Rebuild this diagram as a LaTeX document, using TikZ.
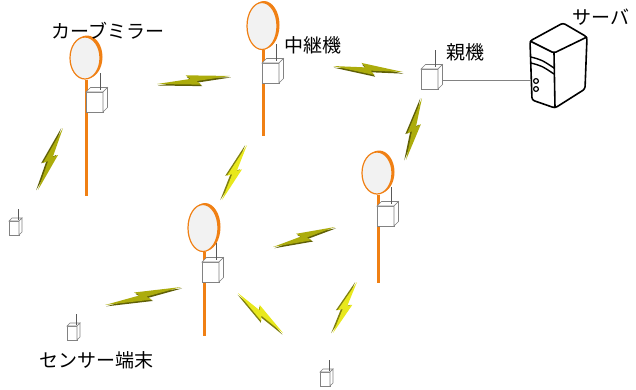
\documentclass[tikz,border=0pt]{standalone}
\usepackage{fontspec}
\newfontfamily\jpfont{Noto Sans CJK JP}
\usepackage{tikz}
\usepackage{xcolor}
\definecolor{mirrororange}{RGB}{240,128,20}
\definecolor{mirrorface}{RGB}{242,242,242}
\definecolor{boltolive}{RGB}{172,172,12}
\definecolor{boltyellow}{RGB}{232,232,28}
\definecolor{boxgray}{RGB}{130,130,130}

% building blocks, origin of each pic noted in its comment
\tikzset{
  % lightning bolt from (0,0) to (#1,0), #2 = face colour
  pics/bolt/.style 2 args={code={
    \fill[#2!55!black] (0.8,1.6) -- (0.46*#1+0.8,0.2) -- (0.40*#1+0.8,-3.9) -- (#1+0.8,1.6)
      -- (0.54*#1+0.8,3.0) -- (0.60*#1+0.8,7.1) -- cycle;
    \fill[#2] (0,0) -- (0.46*#1,-1.4) -- (0.40*#1,-5.5) -- (#1,0)
      -- (0.54*#1,1.4) -- (0.60*#1,5.5) -- cycle;
  }},
  % curve mirror, origin = mirror centre, #1 = half height, #2 = pole length
  pics/mirror/.style 2 args={code={
    \draw[mirrororange, line width=3pt] (1,#1) -- (1,#2);
    \fill[mirrororange] (2,-1) ellipse [x radius=15.5, y radius=#1];
    \filldraw[fill=mirrorface, draw=mirrororange, line width=1.2pt] (0,0) ellipse [x radius=15, y radius=#1-0.5];
  }},
  % radio unit, origin = top left corner of the front face
  pics/relay/.style={code={
    \filldraw[boxgray, fill=white, line width=0.6pt] (0,0) rectangle (17,20);
    \filldraw[boxgray, fill=white, line width=0.6pt] (0,0) -- (4.5,-4.5) -- (21.5,-4.5) -- (17,0) -- cycle;
    \filldraw[boxgray, fill=white, line width=0.6pt] (17,0) -- (21.5,-4.5) -- (21.5,15.5) -- (17,20) -- cycle;
    \draw[black!65, line width=0.9pt] (14,-2.2) -- (14,-19);
    \coordinate (-port) at (21.5,11);
  }},
  % sensor terminal, origin = top left corner of the front face
  pics/sensor/.style={code={
    \filldraw[boxgray, fill=white, line width=0.6pt] (0,0) rectangle (10,14);
    \filldraw[boxgray, fill=white, line width=0.6pt] (0,0) -- (3,-3) -- (13,-3) -- (10,0) -- cycle;
    \filldraw[boxgray, fill=white, line width=0.6pt] (10,0) -- (13,-3) -- (13,11) -- (10,14) -- cycle;
    \draw[black!65, line width=0.8pt] (9,-1.5) -- (9,-12);
  }},
  % server tower, origin = top left corner of the front face
  pics/server/.style={code={
    \filldraw[line width=1.6pt, fill=white, rounded corners=2.5pt, line join=round]
      (0,0) -- (33,-18) -- (57,-4) -- (55,48) -- (25,67) -- (2,59) -- cycle;
    \draw[line width=1.6pt, rounded corners=2pt, line join=round] (0,0) -- (24,12) -- (57,-4);
    \draw[line width=1.6pt] (24,12) -- (25,67);
    \draw[line width=1.4pt] (1,16) .. controls (12,19) .. (24,27);
    \draw[line width=1.4pt] (1,22) .. controls (12,25) .. (24,33);
    \draw[line width=1.2pt] (6,40) circle (2.4);
    \draw[line width=1.2pt] (6,48) circle (2.4);
    \coordinate (-port) at (0.5,39);
  }}
}

\begin{document}
\begin{tikzpicture}[x=1pt, y=-1pt,
    every node/.style={font=\jpfont\fontsize{19}{22}\selectfont, inner sep=0pt},
    link/.style={boxgray, line width=0.8pt}]
\useasboundingbox (0,0) rectangle (636,389);

% radio links between the units
\pic[rotate=6.3]    at (157,84)  {bolt={73.4}{boltolive}};
\pic[rotate=-4.9]   at (333,66)  {bolt={70.3}{boltolive}};
\pic[rotate=-112.0] at (63,128)  {bolt={66.9}{boltolive}};
\pic[rotate=-114.4] at (247,145) {bolt={60.4}{boltyellow}};
\pic[rotate=-104.5] at (422,98)  {bolt={64.0}{boltolive}};
\pic[rotate=17.9]   at (273,247) {bolt={65.1}{boltolive}};
\pic[rotate=13.3]   at (105,305) {bolt={78.1}{boltolive}};
\pic[rotate=-41.6]  at (238,293) {bolt={60.2}{boltyellow}};
\pic[rotate=-115.2] at (357,282) {bolt={56.4}{boltyellow}};

% curve mirrors carrying the relays
\pic (m1) at (85,58)   {mirror={21.5}{138}};
\pic (m2) at (262,26)  {mirror={24}{110}};
\pic (m3) at (377,173) {mirror={21.5}{110}};
\pic (m4) at (203,228) {mirror={24}{108}};

\pic (r1) at (86,92)   {relay};
\pic (r2) at (262,63)  {relay};
\pic (r3) at (377,206) {relay};
\pic (r4) at (202,262) {relay};

% base unit wired to the server
\pic (base) at (421,69) {relay};
\pic (srv)  at (530,41) {server};
\draw[link] (base-port) -- (srv-port);

% sensor terminals
\pic (s1) at (9,221)   {sensor};
\pic (s2) at (67,326)  {sensor};
\pic (s3) at (320,372) {sensor};

% captions
\node (capMirror) at (108,31)  {カーブミラー};
\node (capRelay)  at (313,45)  {中継機};
\node (capBase)   at (465,52)  {親機};
\node (capServer) at (601,17)  {サーバ};
\node (capSensor) at (96,360)  {センサー端末};

\end{tikzpicture}
\end{document}
